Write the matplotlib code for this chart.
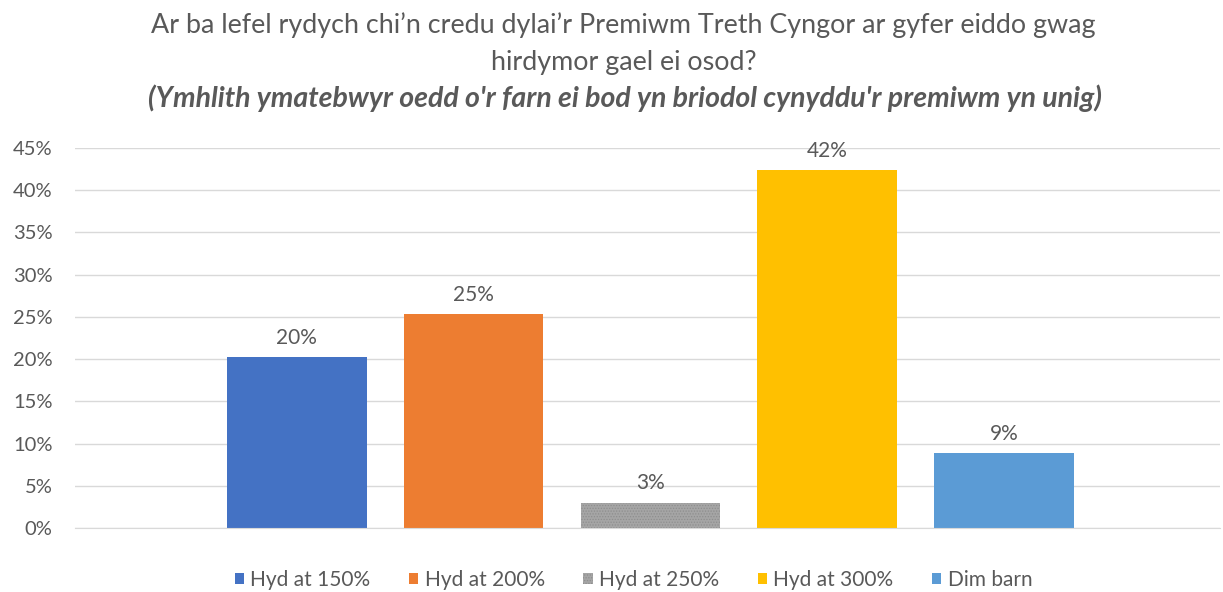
"""Recreate the Welsh council tax premium bar chart."""

import matplotlib
matplotlib.use("Agg")
import matplotlib.pyplot as plt
from matplotlib.patches import Patch
from matplotlib.ticker import FuncFormatter

plt.rcParams["font.family"] = ["Lato", "DejaVu Sans"]
plt.rcParams["hatch.linewidth"] = 0.6

categories = ["Hyd at 150%", "Hyd at 200%", "Hyd at 250%", "Hyd at 300%", "Dim barn"]
values = [20.2, 25.3, 3.0, 42.4, 8.9]
labels = ["20%", "25%", "3%", "42%", "9%"]
colors = ["#4472C4", "#ED7D31", "#A5A5A5", "#FFC000", "#5B9BD5"]
yticks = [0, 5, 10, 15, 20, 25, 30, 35, 40, 45]

text_color = "#595959"

fig = plt.figure(figsize=(12.23, 5.92), dpi=100)
ax = fig.add_axes([0.0613, 0.1081, 0.9362, 0.6419])

x = list(range(len(categories)))
bars = ax.bar(x, values, width=0.79, color=colors, linewidth=0, zorder=3)
# grey bar has a fine texture in the original
bars[2].set_hatch("......")
bars[2].set_edgecolor("#8E8E8E")

for xi, v, lab in zip(x, values, labels):
    ax.text(xi, v + 1.1, lab, ha="center", va="bottom", fontsize=15, color=text_color)

ax.set_xlim(-1.254, 5.22)
ax.set_ylim(0, 45)
ax.set_yticks(yticks)
ax.yaxis.set_major_formatter(FuncFormatter(lambda v, _: f"{v:.0f}%"))
ax.set_xticks([])
ax.tick_params(axis="y", length=0, labelsize=14.5, labelcolor=text_color, pad=16)
ax.grid(axis="y", color="#D9D9D9", linewidth=1, zorder=0)
for side in ["top", "right", "left"]:
    ax.spines[side].set_visible(False)
ax.spines["bottom"].set_color("#D9D9D9")
ax.spines["bottom"].set_zorder(4)

fig.text(0.51, 0.957, "Ar ba lefel rydych chi\u2019n credu dylai\u2019r Premiwm Treth Cyngor ar gyfer eiddo gwag",
         ha="center", va="center", fontsize=19.4, color=text_color)
fig.text(0.51, 0.895, "hirdymor gael ei osod?",
         ha="center", va="center", fontsize=19.4, color=text_color)
fig.text(0.511, 0.834, "(Ymhlith ymatebwyr oedd o'r farn ei bod yn briodol cynyddu'r premiwm yn unig)",
         ha="center", va="center", fontsize=20.5, color=text_color,
         fontweight="bold", fontstyle="italic")

handles = []
for c, name in zip(colors, categories):
    h = Patch(facecolor=c, linewidth=0, label=name)
    if name == "Hyd at 250%":
        h.set_hatch("......")
        h.set_edgecolor("#8E8E8E")
    handles.append(h)
fig.legend(handles=handles, loc="center", bbox_to_anchor=(0.518, 0.02), ncol=5,
           frameon=False, fontsize=15, handlelength=0.45, handleheight=0.45,
           handletextpad=0.3, columnspacing=1.85, labelcolor=text_color)

fig.savefig("out.png", dpi=100)
